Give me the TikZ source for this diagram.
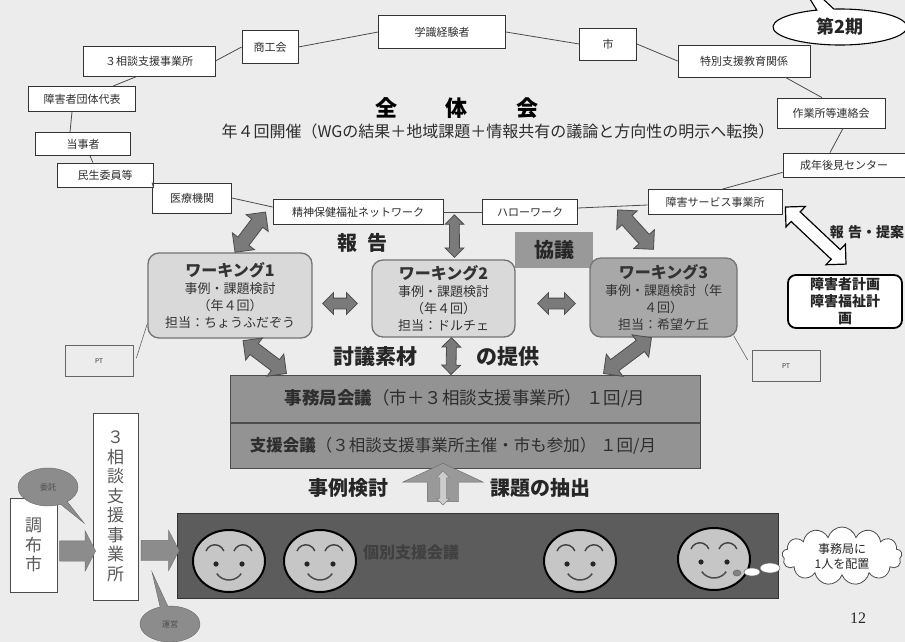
\documentclass[tikz,border=0pt]{standalone}
\usepackage{fontspec}
\setmainfont{Noto Sans CJK JP}
\newfontfamily\numfont{Liberation Serif}
\usetikzlibrary{shapes.geometric,shapes.arrows,shapes.callouts,shapes.symbols,calc}

\definecolor{bg}{HTML}{ECECEC}
\definecolor{wlight}{HTML}{D9D9D9}
\definecolor{wdark}{HTML}{A8A8A8}
\definecolor{meetgray}{HTML}{939393}
\definecolor{kobetsu}{HTML}{5C5C5C}
\definecolor{arrowgray}{HTML}{7A7A7A}
\definecolor{facegray}{HTML}{C6C6C6}
\definecolor{bubblegray}{HTML}{8C8C8C}
\definecolor{txt}{HTML}{2E2E2E}

\newcommand\jsize[2]{\fontsize{#1}{#2}\selectfont}

\tikzset{
  member/.style={draw=black!80, fill=white, line width=0.8pt, inner sep=0pt,
    text=txt, font=\jsize{11}{12}},
  ring/.style={draw=black!70, line width=0.8pt},
  wbox/.style={draw=black!55, line width=1.3pt, rounded corners=11pt, align=center,
    inner sep=0pt, text=black!80, font=\jsize{13}{17}},
  meeting/.style={draw=black!70, fill=meetgray, line width=1pt, inner sep=0pt,
    text=txt, font=\jsize{16.5}{18}},
  % shaft half-width is set through inner ysep, the head through the extend
  fatbase/.style={double arrow, draw=black!70, fill=arrowgray, line width=0.8pt,
    inner xsep=0pt, inner ysep=6.5pt, double arrow head extend=7pt, minimum width=0pt},
  fatthin/.style={inner ysep=4.5pt, double arrow head extend=4.5pt},
  fatmid/.style={inner ysep=5pt, double arrow head extend=5.5pt},
  fatwhite/.style={fill=white, draw=black, line width=1.2pt, inner ysep=6pt,
    double arrow head extend=7.5pt},
  ptbox/.style={draw=black!60, fill=bg, line width=0.6pt, inner sep=0pt,
    font=\jsize{6.5}{8}, text=txt, minimum width=68pt, minimum height=31pt},
  bigtext/.style={font=\bfseries\jsize{20}{22}, text=black!85},
  smallbubble/.style={ellipse callout, draw=black!60, fill=bubblegray, inner sep=0pt,
    font=\jsize{8}{9}, text=black!70},
  vertbox/.style={draw=black!70, fill=white, line width=0.8pt, inner sep=0pt,
    align=center, text=black!65},
  flowarrow/.style={single arrow, draw=black!55, fill=black!45, inner xsep=0pt,
    inner ysep=10pt, minimum width=0pt, single arrow head extend=10pt,
    single arrow tip angle=125},
  smiley/.pic={
    \begin{scope}[yscale=-1]
      \draw[fill=facegray, line width=2pt] (0,0) ellipse [x radius=36, y radius=31];
      \draw[line width=1.4pt, black!75] (-23,10) arc[start angle=160, end angle=20, radius=9.5];
      \draw[line width=1.4pt, black!75] (5,10) arc[start angle=160, end angle=20, radius=9.5];
      \fill[black!85] (-13,-3) circle[radius=2.6];
      \fill[black!85] (13,-3) circle[radius=2.6];
      \draw[line width=1.5pt, black!70] (-12.3,-12.6) arc[start angle=215, end angle=325, radius=15];
    \end{scope}
  }
}

% fat double arrow between two points, rotated to follow them
\newcommand\fatarrow[3][]{%
  \path let \p1=#2, \p2=#3,
    \n1={atan2(\y2-\y1,\x2-\x1)}, \n2={veclen(\x2-\x1,\y2-\y1)} in
    node[fatbase,#1,rotate=\n1,minimum height=\n2] at ({(\x1+\x2)/2},{(\y1+\y2)/2}) {};}

\begin{document}
\begin{tikzpicture}[x=1pt,y=-1pt]
\useasboundingbox (0,0) rectangle (905,642);
\fill[bg] (0,0) rectangle (905,642);

% ---- members of the general meeting ----
\node[member, minimum width=132pt, minimum height=30pt] (soudan) at (149,61) {３相談支援事業所};
\node[member, minimum width=56pt, minimum height=33pt] (shoko) at (270,47) {商工会};
\node[member, minimum width=127pt, minimum height=33pt] (gakushiki) at (442,32) {学識経験者};
\node[member, minimum width=57pt, minimum height=32pt] (shi) at (608,44) {市};
\node[member, minimum width=132pt, minimum height=32pt] (tokubetsu) at (744,61) {特別支援教育関係};
\node[member, minimum width=108pt, minimum height=30pt] (sagyo) at (831,113) {作業所等連絡会};
\node[member, minimum width=122pt, minimum height=24pt] (seinen) at (844,165) {成年後見センター};
\node[member, minimum width=134pt, minimum height=25pt] (shogaiserv) at (715,202) {障害サービス事業所};
\node[member, minimum width=95pt, minimum height=25pt] (hello) at (530,212) {ハローワーク};
\node[member, minimum width=170pt, minimum height=25pt] (net) at (358,212) {精神保健福祉ネットワーク};
\node[member, minimum width=79pt, minimum height=30pt] (iryo) at (192,198) {医療機関};
\node[member, minimum width=96pt, minimum height=24pt] (minsei) at (105,175) {民生委員等};
\node[member, minimum width=95pt, minimum height=23pt] (touji) at (83,144) {当事者};
\node[member, minimum width=107pt, minimum height=25pt] (dantai) at (82,99) {障害者団体代表};

\draw[ring] (soudan.east) -- (shoko.west);
\draw[ring] (shoko.east) -- (gakushiki.west);
\draw[ring] (gakushiki.east) -- (shi.west);
\draw[ring] (shi.east) -- (tokubetsu.west);
\draw[ring] ($(tokubetsu.south east)+(-25,0)$) -- ($(sagyo.north)+(-9,0)$);
\draw[ring] ($(sagyo.south)+(12,0)$) -- ($(seinen.north)+(-14,0)$);
\draw[ring] ($(seinen.south west)+(0,-5)$) -- ($(shogaiserv.north east)+(-60,0)$);
\draw[ring] ($(shogaiserv.west)+(0,3)$) -- ($(hello.east)+(0,-4)$);
\draw[ring] (hello.west) -- (net.east);
\draw[ring] ($(net.west)+(0,-5)$) -- (iryo.east);
\draw[ring] (iryo.north west) -- (minsei.south east);
\draw[ring] ($(minsei.north)+(-12,0)$) -- ($(touji.south)+(7,0)$);
\draw[ring] ($(touji.north)+(-13,0)$) -- ($(dantai.south)+(-10,0)$);
\draw[ring] ($(dantai.north)+(31,0)$) -- ($(soudan.south)+(-12,0)$);

% ---- general meeting title ----
\node[font=\bfseries\jsize{22}{24}, text=black] (zentai) at (457,108) {全\hspace{2.2em}体\hspace{2.2em}会};
\node[font=\jsize{16}{17}, text=txt] (zentaisub) at (498,131)
  {年４回開催（WGの結果＋地域課題＋情報共有の議論と方向性の明示へ転換）};

% ---- period callout ----
\node[ellipse callout, draw=black, fill=white, line width=1.1pt, inner sep=0pt,
  minimum width=134pt, minimum height=36pt, callout absolute pointer={(792,-30)},
  font=\bfseries\jsize{18}{20}, text=black!85] (ki) at (840,27) {第2期};

% ---- working groups ----
\node[fill=black!40, minimum width=78pt, minimum height=36pt, inner sep=0pt,
  font=\bfseries\jsize{20}{22}, text=black!85] (kyogi) at (554,250) {協議};
\node[bigtext] (houkoku) at (362,243) {報\hspace{0.5em}告};

\node[wbox, fill=wlight, minimum width=164pt, minimum height=85pt] (w1) at (230,295.5)
  {{\bfseries\jsize{16}{18}ワーキング1}\\事例・課題検討\\（年４回）\\担当：ちょうふだぞう};
\node[wbox, fill=wlight, minimum width=143pt, minimum height=77pt] (w2) at (443.5,298.5)
  {{\bfseries\jsize{16}{18}ワーキング2}\\事例・課題検討\\（年４回）\\担当：ドルチェ};
\node[wbox, fill=wdark, minimum width=147pt, minimum height=79pt] (w3) at (663.5,297.5)
  {{\bfseries\jsize{16}{18}ワーキング3}\\事例・課題検討（年\\４回）\\担当：希望ケ丘};

\node[ptbox] (pt1) at (99,361) {PT};
\node[ptbox] (pt3) at (786,366) {PT};
\draw[draw=black!60, line width=0.6pt] ($(w1.west)+(0,28)$) -- ($(pt1.north east)+(3,13)$);
\draw[draw=black!60, line width=0.6pt] ($(w3.south east)+(-4,-2)$) -- ($(pt3.west)+(-4,-6)$);

% ---- plan box and its link ----
\node[draw=black, line width=1.8pt, fill=white, rounded corners=8pt, inner sep=0pt,
  minimum width=114pt, minimum height=53pt, align=center,
  font=\bfseries\jsize{14}{17}, text=black!85] (plan) at (845,301.5)
  {障害者計画\\障害福祉計\\画};
\node[font=\bfseries\jsize{14}{16}, text=black!85] (teian) at (867,232) {報\hspace{0.3em}告・提案};

% ---- meetings ----
\node[meeting, font=\jsize{17.5}{19}, minimum width=470pt, minimum height=47pt] (jimu) at (465,398.5)
  {{\bfseries 事務局会議}（市＋３相談支援事業所）\ １回/月};
\node[meeting, minimum width=470pt, minimum height=45pt, anchor=north] (shien) at (jimu.south)
  {{\bfseries 支援会議}（３相談支援事業所主催・市も参加）\ １回/月\kern24pt\relax};

\node[bigtext, font=\bfseries\jsize{21}{23}] (tougi) at (375,357) {討議素材};
\node[bigtext, font=\bfseries\jsize{21}{23}] (teikyo) at (508,357) {の提供};

% ---- fat arrows ----
\fatarrow{($(w1.north)+(5,0)$)}{($(net.west)+(-7,0)$)}
\fatarrow[fatthin]{($(w2.north)+(11,-2)$)}{($(net.south east)+(11,-10)$)}
\fatarrow{($(shogaiserv.south west)+(-30,-5)$)}{($(w3.north)+(-10,-8)$)}
\fatarrow[fatmid]{($(w1.east)+(10,8)$)}{($(w2.west)+(-14,5)$)}
\fatarrow[fatmid]{($(w2.east)+(22,5)$)}{($(w3.west)+(-14,6)$)}
\fatarrow[fatthin]{($(w2.south)+(8,0)$)}{($(jimu.north)+(-14,0)$)}
\fatarrow{($(w1.south)+(13,2)$)}{($(jimu.north west)+(57,-1)$)}
\fatarrow{($(w3.south)+(-12,0)$)}{($(jimu.north east)+(-97,-1)$)}
\fatarrow[fatwhite]{($(shogaiserv.east)+(3,5)$)}{($(plan.north)+(1,-10)$)}

% ---- individual support meetings ----
\node[draw=black!80, fill=kobetsu, line width=1pt, minimum width=601pt, minimum height=85pt,
  inner sep=0pt] (kobetsubox) at (477.5,555.5) {};
\node[font=\bfseries\jsize{16}{18}, text=black!75] (kobetsutext) at (411,552) {個別支援会議};
\pic at (229,561) {smiley};
\pic at (320,561) {smiley};
\pic at (580,561) {smiley};
\pic at (714,559) {smiley};

\node[single arrow, draw=black!60, fill=black!40, rotate=90, inner xsep=0pt, inner ysep=15.5pt,
  minimum width=0pt, minimum height=38pt, single arrow head extend=24.5pt,
  single arrow tip angle=130] (uparrow) at (443,486) {};
\node[double arrow, draw=black!50, fill=black!20, rotate=90, inner xsep=0pt, inner ysep=3pt,
  minimum width=0pt, minimum height=34pt, double arrow head extend=3.5pt] (uparrowin) at (443,488) {};
\node[bigtext] (jirei) at (348,488) {事例検討};
\node[bigtext] (kadai) at (540,488) {課題の抽出};

% ---- thought bubble ----
\node[ellipse, fill=black!50, draw=black!60, line width=0.5pt, minimum width=8pt,
  minimum height=6pt, inner sep=0pt] (th1) at (737,573) {};
\node[ellipse, fill=white, draw=black!60, line width=0.5pt, minimum width=16pt,
  minimum height=8pt, inner sep=0pt] (th2) at (752,572) {};
\node[ellipse, fill=white, draw=black!60, line width=0.5pt, minimum width=20pt,
  minimum height=10pt, inner sep=0pt] (th3) at (770,568) {};
\node[cloud, cloud puffs=13, aspect=2.1, draw=black!70, fill=white, line width=0.8pt,
  inner sep=0pt, minimum width=120pt, minimum height=58pt, align=center,
  font=\jsize{12}{15}, text=black!85] (cloud) at (842,556) {事務局に\\1人を配置};

% ---- city and consultation offices ----
\node[vertbox, minimum width=47pt, minimum height=94pt, font=\jsize{17}{19.5}] (chofu) at (33.5,545) {調\\布\\市};
\node[vertbox, minimum width=45pt, minimum height=187pt, font=\jsize{17}{19.5}] (soudanv) at (115.5,506.5)
  {３\\相\\談\\支\\援\\事\\業\\所};
\node[flowarrow, minimum height=36pt] (arr1) at ($(chofu.east)!0.5!(soudanv.west |- chofu.east)+(0,6)$) {};
\node[flowarrow, minimum height=38pt] (arr2) at ($(soudanv.east |- kobetsubox.west)!0.5!(kobetsubox.west)+(0,-5)$) {};
\node[smallbubble, minimum width=60pt, minimum height=38pt,
  callout absolute pointer={(84,523)}] (itaku) at (48,487) {委託};
\node[smallbubble, minimum width=60pt, minimum height=36pt,
  callout absolute pointer={(152,572)}] (unei) at (170,624) {運営};

% ---- page number ----
\node[font=\numfont\jsize{16}{18}, text=black!85] (page) at (858,618) {12};
\end{tikzpicture}
\end{document}
